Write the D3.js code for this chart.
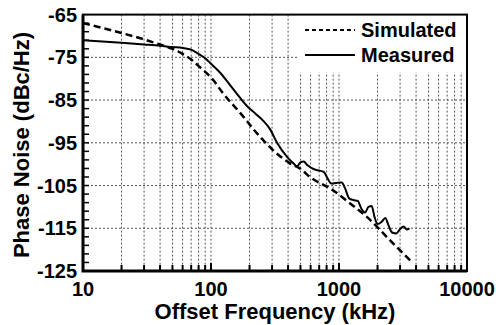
<!DOCTYPE html>
<html>
<head>
<meta charset="utf-8">
<script src="https://cdn.jsdelivr.net/npm/d3@7"></script>
<style>
  html, body { margin: 0; padding: 0; background: #fff; }
  text { font-family: "Liberation Sans", Arial, sans-serif; font-weight: bold; fill: #000; }
</style>
</head>
<body>
<main></main>
<script>
// offset frequency (kHz) and phase noise (dBc/Hz)
const simFreq = [10, 15, 20, 30, 40, 50, 60, 70, 82, 104, 124, 169, 229, 305, 414, 495, 593, 897, 1200, 1660, 2500, 3590];
const simDb = [-67.0, -68.3, -69.3, -70.8, -72.0, -73.0, -74.2, -75.5, -77.3, -80.3, -83.4, -88.0, -92.8, -96.7, -99.8, -101.0, -103.0, -106.1, -109.0, -112.4, -117.8, -122.5];

const measFreq = [10, 20, 30, 40, 50, 60, 70, 80, 90, 100, 117, 141, 169, 191, 225, 255, 289, 328, 393, 440, 470, 500, 530, 565, 640, 700, 760, 820, 870, 950, 1050, 1110, 1200, 1300, 1400, 1500, 1600, 1700, 1800, 1900, 2000, 2150, 2300, 2450, 2600, 2800, 3000, 3200, 3400, 3550];
const measDb = [-71.0, -71.6, -72.0, -72.3, -72.6, -72.8, -73.2, -74.2, -75.2, -76.5, -78.5, -81.5, -84.5, -86.4, -88.3, -89.8, -91.8, -95.0, -98.3, -99.8, -100.5, -99.6, -99.4, -100.2, -101.2, -101.5, -101.8, -103.5, -104.5, -104.4, -104.3, -105.5, -108.0, -108.4, -108.6, -110.5, -111.3, -110.0, -109.8, -112.5, -114.0, -113.5, -112.6, -114.5, -116.0, -116.2, -115.2, -114.6, -115.3, -115.0];

const xTicks = [10, 100, 1000, 10000];
const yTicks = [-125, -115, -105, -95, -85, -75, -65];
const seriesNames = ["Simulated", "Measured"];

const W = 496, H = 325;
const svg = d3.select("main").append("svg")
  .attr("width", W).attr("height", H).attr("viewBox", `0 0 ${W} ${H}`);

const x = d3.scaleLog().domain([10, 10000]).range([83, 467]);
const y = d3.scaleLinear().domain([-125, -65]).range([271, 14.6]);

const gridX = [];
for (let dec = 10; dec < 10000; dec *= 10) for (let k = 1; k <= 9; k++) if (dec * k > 10) gridX.push(dec * k);
const minorY = d3.range(-123, -65, 2);

const g = svg.append("g");

// grid
g.append("g").selectAll("line").data(gridX.filter(d => d < 10000)).join("line")
  .attr("x1", d => x(d)).attr("x2", d => x(d))
  .attr("y1", y(-65)).attr("y2", y(-125))
  .attr("stroke", "#555").attr("stroke-width", 1).attr("stroke-dasharray", "2,2");
g.append("g").selectAll("line").data(yTicks.slice(1, -1)).join("line")
  .attr("x1", x(10)).attr("x2", x(10000))
  .attr("y1", d => y(d)).attr("y2", d => y(d))
  .attr("stroke", "#555").attr("stroke-width", 1).attr("stroke-dasharray", "2,2");

// legend background
g.append("rect").attr("x", 298).attr("y", y(-65)).attr("width", x(10000) - 298).attr("height", 58).attr("fill", "#fff");

// ticks (inward)
g.append("g").selectAll("line").data(gridX.filter(d => d < 10000)).join("line")
  .attr("x1", d => x(d)).attr("x2", d => x(d))
  .attr("y1", y(-125)).attr("y2", d => y(-125) - (xTicks.includes(d) ? 8 : 6))
  .attr("stroke", "#000").attr("stroke-width", 2);
g.append("g").selectAll("line").data(minorY).join("line")
  .attr("x1", x(10)).attr("x2", x(10) + 6)
  .attr("y1", d => y(d)).attr("y2", d => y(d))
  .attr("stroke", "#000").attr("stroke-width", 1.5);

// frame
g.append("rect").attr("x", x(10)).attr("y", y(-65))
  .attr("width", x(10000) - x(10)).attr("height", y(-125) - y(-65))
  .attr("fill", "none").attr("stroke", "#000").attr("stroke-width", 2);
g.append("path")
  .attr("d", `M${x(10)},${y(-65)}V${y(-125)}H${x(10000)}`)
  .attr("fill", "none").attr("stroke", "#000").attr("stroke-width", 3);

// tick labels
g.append("g").selectAll("text").data(xTicks).join("text")
  .attr("x", d => x(d)).attr("y", 296).attr("text-anchor", "middle")
  .style("font-size", "20px").text(d => d);
g.append("g").selectAll("text").data(yTicks).join("text")
  .attr("x", 77).attr("y", d => y(d) + 7).attr("text-anchor", "end")
  .style("font-size", "20px").text(d => d);

// axis titles
g.append("text").attr("x", (x(10) + x(10000)) / 2).attr("y", 319).attr("text-anchor", "middle")
  .style("font-size", "22px").text("Offset Frequency (kHz)");
g.append("text").attr("transform", "translate(29,145) rotate(-90)").attr("text-anchor", "middle")
  .style("font-size", "22px").text("Phase Noise (dBc/Hz)");

// curves
const line = d3.line().x(d => x(d[0])).y(d => y(d[1])).curve(d3.curveMonotoneX);
g.append("path").datum(simFreq.map((f, i) => [f, simDb[i]]))
  .attr("fill", "none").attr("stroke", "#000").attr("stroke-width", 2.5)
  .attr("stroke-dasharray", "7,4").attr("d", line);
g.append("path").datum(measFreq.map((f, i) => [f, measDb[i]]))
  .attr("fill", "none").attr("stroke", "#000").attr("stroke-width", 2)
  .attr("stroke-linejoin", "round").attr("d", line);

// legend
const leg = g.append("g").selectAll("g").data(seriesNames).join("g")
  .attr("transform", (d, i) => `translate(305,${30 + i * 25})`);
leg.append("line").attr("x1", 0).attr("x2", 50)
  .attr("stroke", "#000").attr("stroke-width", 2)
  .attr("stroke-dasharray", (d, i) => i === 0 ? "4,3" : null);
leg.append("text").attr("x", 56).attr("y", 7).style("font-size", "20px").text(d => d);
</script>
</body>
</html>
